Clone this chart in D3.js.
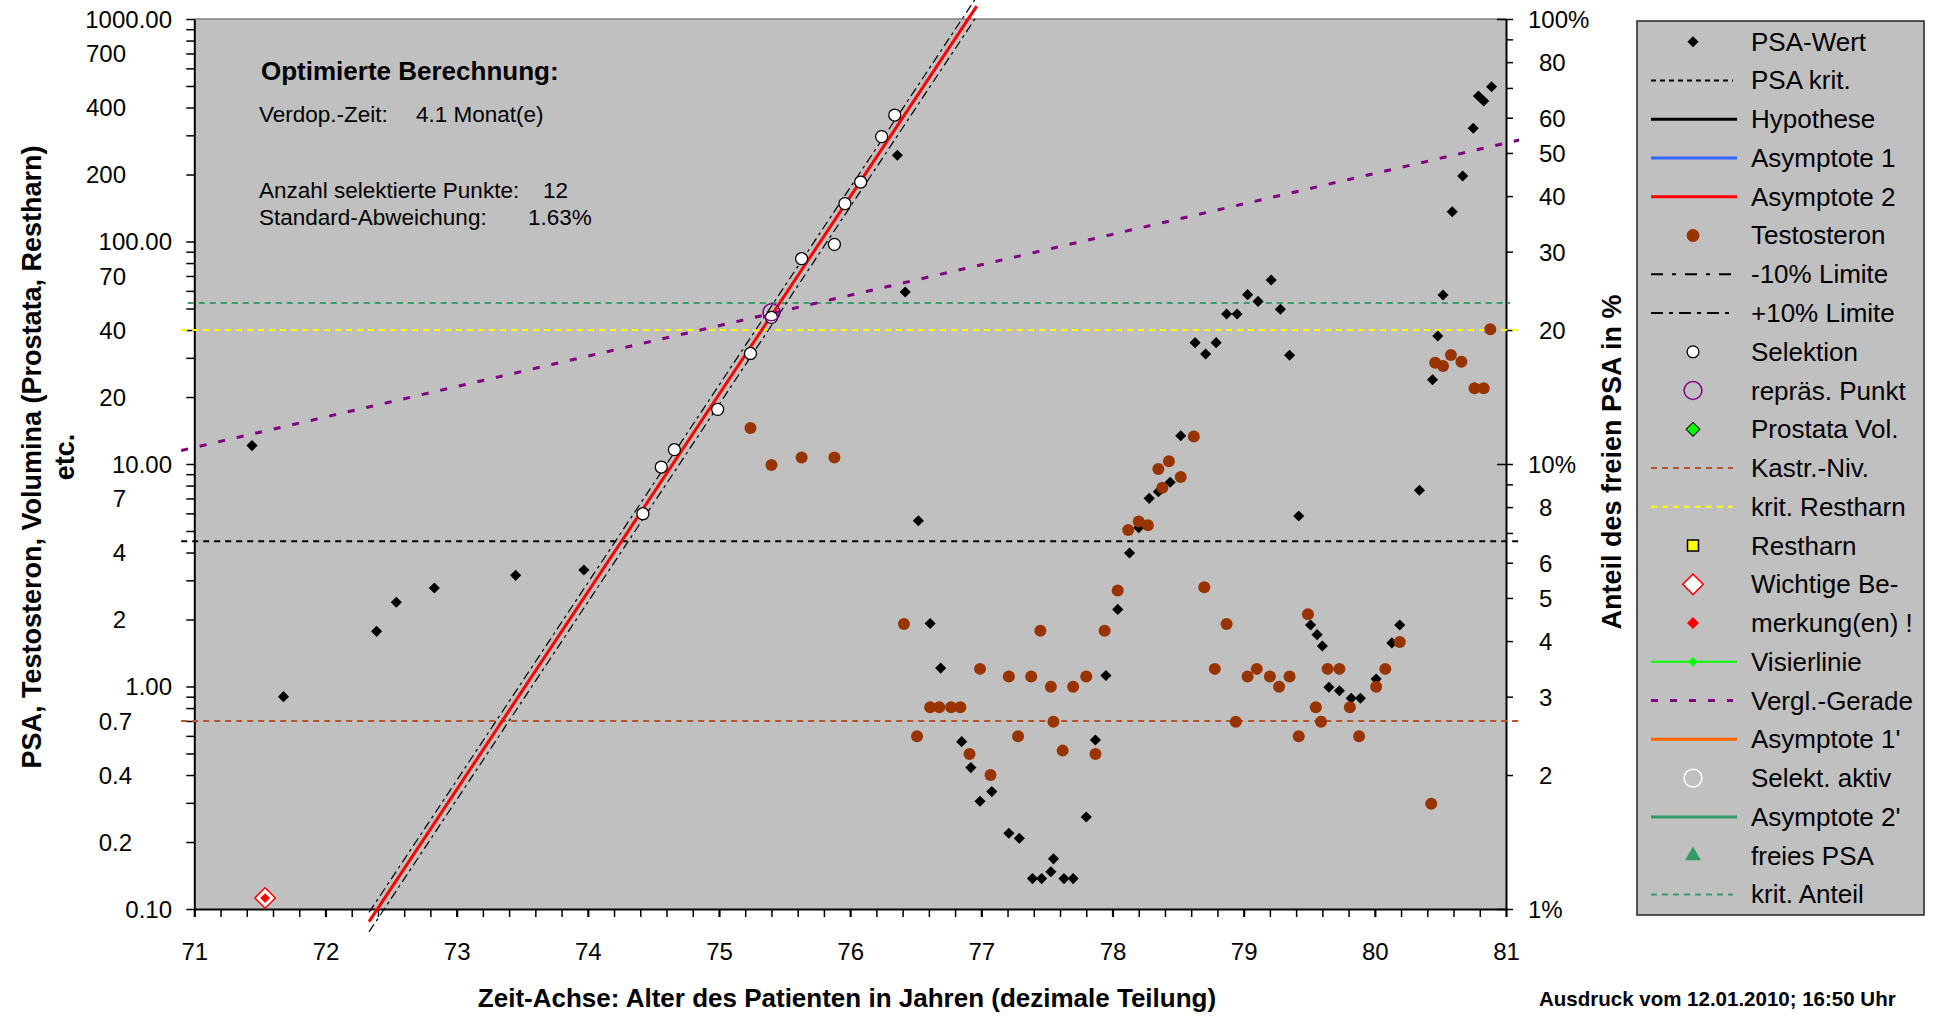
<!DOCTYPE html>
<html>
<head>
<meta charset="utf-8">
<title>PSA-Verlauf</title>
<script src="https://d3js.org/d3.v7.min.js"></script>
<style>
  body { margin: 0; background: #fff; }
  text { font-family: "Liberation Sans", Arial, sans-serif; fill: #000; }
</style>
</head>
<body>
<script>
var w = 1933, h = 1016;

// PSA-Wert [Alter, ng/ml]
var psaWert = [
  [71.44, 12.1], [71.68, 0.90], [72.39, 1.77], [72.54, 2.39], [72.83, 2.77], [73.45, 3.16], [73.97, 3.34],
  [74.42, 5.98], [74.56, 9.69], [74.66, 11.6], [74.99, 17.6], [75.24, 31.4], [75.40, 45.6], [75.63, 83.7],
  [75.88, 97.1], [75.96, 148], [76.08, 185], [76.24, 296], [76.34, 370], [76.36, 244], [76.42, 59.3],
  [76.52, 5.56], [76.61, 1.92], [76.69, 1.21], [76.85, 0.565], [76.92, 0.432], [76.99, 0.305], [77.08, 0.337],
  [77.21, 0.219], [77.29, 0.208], [77.39, 0.137], [77.46, 0.137], [77.53, 0.147], [77.55, 0.168], [77.63, 0.137],
  [77.70, 0.137], [77.80, 0.259], [77.87, 0.575], [77.95, 1.12], [78.04, 2.22], [78.13, 3.98], [78.20, 5.17],
  [78.28, 7.01], [78.35, 7.51], [78.44, 8.28], [78.52, 13.4], [78.63, 35.1], [78.71, 31.2], [78.79, 35.1],
  [78.87, 47.2], [78.95, 47.2], [79.03, 57.7], [79.11, 53.8], [79.21, 67.1], [79.28, 49.6], [79.35, 30.8],
  [79.42, 5.84], [79.51, 1.89], [79.56, 1.71], [79.60, 1.52], [79.65, 0.992], [79.73, 0.957], [79.82, 0.885],
  [79.89, 0.885], [80.01, 1.08], [80.13, 1.57], [80.19, 1.89], [80.34, 7.62], [80.44, 23.9], [80.48, 37.6],
  [80.52, 57.5], [80.59, 136], [80.67, 197], [80.75, 323], [80.79, 451], [80.83, 428], [80.89, 496]
];

// selektierte Punkte (12)
var selektion = [
  [74.42, 5.98], [74.56, 9.69], [74.66, 11.6], [74.99, 17.6], [75.24, 31.4], [75.40, 45.6],
  [75.63, 83.7], [75.88, 97.1], [75.96, 148], [76.08, 185], [76.24, 296], [76.34, 370]
];

var testosteron = [
  [75.24, 14.5], [75.40, 9.90], [75.63, 10.7], [75.88, 10.7], [76.41, 1.91], [76.51, 0.597], [76.61, 0.806],
  [76.68, 0.806], [76.77, 0.806], [76.84, 0.806], [76.91, 0.497], [76.99, 1.20], [77.07, 0.400], [77.21, 1.11],
  [77.28, 0.597], [77.38, 1.11], [77.45, 1.78], [77.53, 0.998], [77.55, 0.695], [77.62, 0.515], [77.70, 0.998],
  [77.80, 1.11], [77.87, 0.497], [77.94, 1.78], [78.04, 2.70], [78.12, 5.05], [78.20, 5.51], [78.27, 5.30],
  [78.35, 9.50], [78.38, 7.83], [78.43, 10.3], [78.52, 8.74], [78.62, 13.3], [78.70, 2.79], [78.78, 1.20],
  [78.87, 1.91], [78.94, 0.695], [79.03, 1.11], [79.10, 1.20], [79.20, 1.11], [79.27, 0.998], [79.35, 1.11],
  [79.42, 0.597], [79.49, 2.11], [79.55, 0.806], [79.59, 0.695], [79.64, 1.20], [79.73, 1.20], [79.81, 0.806],
  [79.88, 0.597], [80.01, 0.998], [80.08, 1.20], [80.19, 1.585], [80.43, 0.297], [80.46, 28.5], [80.52, 27.6],
  [80.58, 30.9], [80.66, 28.8], [80.76, 21.9], [80.83, 21.9], [80.88, 40.3]
];

var repraesPunkt = [[75.40, 48.1]];
var bemerkung = [[71.54, 0.112]];

var asymptote2 = [[72.332, 0.0877], [76.965, 1143]];
var limitePlus = [[72.332, 0.0965], [76.965, 1257]];
var limiteMinus = [[72.332, 0.0789], [76.965, 1029]];
var verglGerade = [[70.9, 11.5], [81.1, 286]];

var psaKrit = [[70.9, 4.5], [81.1, 4.5]];
var kastrNiv = [[70.9, 0.7], [81.1, 0.7]];
var kritRestharn = [[70.9, 40], [81.1, 40]];
var kritAnteil = [[70.95, 23], [81.03, 23]];   // rechte Achse, %

var leftVals = [0.1, 0.2, 0.4, 0.7, 1, 2, 4, 7, 10, 20, 40, 70, 100, 200, 400, 700, 1000];
var leftLabels = ["0.10", "0.2", "0.4", "0.7", "1.00", "2", "4", "7", "10.00", "20", "40", "70", "100.00", "200", "400", "700", "1000.00"];
var rightVals = [1, 2, 3, 4, 5, 6, 8, 10, 20, 30, 40, 50, 60, 80, 100];
var rightLabels = ["1%", "2", "3", "4", "5", "6", "8", "10%", "20", "30", "40", "50", "60", "80", "100%"];
var xLabelVals = [71, 72, 73, 74, 75, 76, 77, 78, 79, 80, 81];

var legendNames = ["PSA-Wert", "PSA krit.", "Hypothese", "Asymptote 1", "Asymptote 2", "Testosteron",
  "-10% Limite", "+10% Limite", "Selektion", "repräs. Punkt", "Prostata Vol.", "Kastr.-Niv.",
  "krit. Restharn", "Restharn", "Wichtige Be-", "merkung(en) !", "Visierlinie", "Vergl.-Gerade",
  "Asymptote 1'", "Selekt. aktiv", "Asymptote 2'", "freies PSA", "krit. Anteil"];

var svg = d3.select("body").append("svg")
  .attr("width", w)
  .attr("height", h);

var x = d3.scaleLinear().domain([71, 81]).range([194.3, 1506]);
var y = d3.scaleLog().domain([0.1, 1000]).range([909, 19]);
var yR = d3.scaleLog().domain([1, 100]).range([909, 19]);

function labelFor(vals, labels, d) {
  for (var i = 0; i < vals.length; i++) {
    if (Math.abs(vals[i] - d) / vals[i] < 1e-6) return labels[i];
  }
  return "";
}

// Plotfläche
svg.append("rect")
  .attr("x", x(71)).attr("y", y(1000))
  .attr("width", x(81) - x(71)).attr("height", y(0.1) - y(1000))
  .attr("fill", "#C0C0C0");
svg.append("line")
  .attr("x1", x(71)).attr("x2", x(81)).attr("y1", y(1000)).attr("y2", y(1000))
  .attr("stroke", "#808080").attr("stroke-width", 1.5);

// Achsen
var gL = svg.append("g")
  .attr("transform", "translate(" + x(71) + ",0)")
  .call(d3.axisLeft(y).tickValues(y.ticks()).tickSize(8).tickSizeOuter(0)
    .tickFormat(function(d){ return labelFor(leftVals, leftLabels, d); }));
gL.selectAll("text")
  .attr("dy", "0.35em")
  .attr("x", function(){
    var t = d3.select(this).text();
    if (t.indexOf(".00") >= 0 || t === "0.10") return 172 - x(71);
    if (t.indexOf("0.") === 0) return 132 - x(71);
    return 126 - x(71);
  });

var gR = svg.append("g")
  .attr("transform", "translate(" + x(81) + ",0)")
  .call(d3.axisRight(yR).tickValues(yR.ticks()).tickSize(7).tickSizeOuter(0)
    .tickFormat(function(d){ return labelFor(rightVals, rightLabels, d); }));
gR.selectAll("text")
  .attr("dy", "0.35em")
  .attr("x", function(){
    var t = d3.select(this).text();
    return t.indexOf("%") >= 0 ? 22 : 33;
  });
gR.selectAll(".tick")
  .filter(function(d){ return d === 1 || d === 10 || d === 100; })
  .select("line").attr("x1", -9);

var gB = svg.append("g")
  .attr("transform", "translate(0," + y(0.1) + ")")
  .call(d3.axisBottom(x).tickValues(x.ticks(50)).tickSize(8).tickSizeOuter(0)
    .tickFormat(function(d){ return xLabelVals.indexOf(d) >= 0 ? String(d) : ""; }));
gB.selectAll("text").attr("y", 50.5).attr("dy", 0);
gB.selectAll(".tick").filter(function(d){ return Number.isInteger(d); })
  .select("line").attr("stroke-width", 2.2);

[gL, gR, gB].forEach(function(g){
  g.attr("font-size", 24).attr("font-family", '"Liberation Sans", Arial, sans-serif');
  g.select(".domain").attr("stroke", "#000").attr("stroke-width", 2);
  g.selectAll(".tick line").attr("stroke", "#000").filter(function(){
    return !d3.select(this).attr("stroke-width");
  }).attr("stroke-width", 1.5);
  g.selectAll(".tick text").attr("fill", "#222");
});

// Linien
var line = d3.line()
  .x(function(d){ return x(d[0]); })
  .y(function(d){ return y(d[1]); });
var lineR = d3.line()
  .x(function(d){ return x(d[0]); })
  .y(function(d){ return yR(d[1]); });

svg.append("path").attr("d", lineR(kritAnteil))
  .attr("fill", "none").attr("stroke", "#3B9C6B").attr("stroke-width", 2).attr("stroke-dasharray", "6,5");
svg.append("path").attr("d", line(kritRestharn))
  .attr("fill", "none").attr("stroke", "#FFFF00").attr("stroke-width", 2).attr("stroke-dasharray", "6,5");
svg.append("path").attr("d", line(psaKrit))
  .attr("fill", "none").attr("stroke", "#000").attr("stroke-width", 2).attr("stroke-dasharray", "6,5");
svg.append("path").attr("d", line(kastrNiv))
  .attr("fill", "none").attr("stroke", "#B5532A").attr("stroke-width", 2).attr("stroke-dasharray", "6,5");
svg.append("path").attr("d", line(verglGerade))
  .attr("fill", "none").attr("stroke", "#800080").attr("stroke-width", 3).attr("stroke-dasharray", "7,12");

svg.append("path").attr("d", line(limitePlus))
  .attr("fill", "none").attr("stroke", "#000").attr("stroke-width", 1.2).attr("stroke-dasharray", "9,4,3,4");
svg.append("path").attr("d", line(limiteMinus))
  .attr("fill", "none").attr("stroke", "#000").attr("stroke-width", 1.2).attr("stroke-dasharray", "9,4,3,4");
svg.append("path").attr("d", line(asymptote2))
  .attr("fill", "none").attr("stroke", "#FF0000").attr("stroke-width", 3);

// Marker
var diamond = d3.symbol().type(d3.symbolSquare).size(62);

svg.selectAll("path.psa")
  .data(psaWert)
  .enter()
  .append("path")
  .attr("class", "psa")
  .attr("d", diamond)
  .attr("transform", function(d){ return "translate(" + x(d[0]) + "," + y(d[1]) + ") rotate(45)"; })
  .attr("fill", "#000");

svg.selectAll("circle.testo")
  .data(testosteron)
  .enter()
  .append("circle")
  .attr("class", "testo")
  .attr("cx", function(d){ return x(d[0]); })
  .attr("cy", function(d){ return y(d[1]); })
  .attr("r", 6)
  .attr("fill", "#993300");

svg.selectAll("circle.sel")
  .data(selektion)
  .enter()
  .append("circle")
  .attr("class", "sel")
  .attr("cx", function(d){ return x(d[0]); })
  .attr("cy", function(d){ return y(d[1]); })
  .attr("r", 6)
  .attr("fill", "#fff")
  .attr("stroke", "#000")
  .attr("stroke-width", 1.3);

svg.selectAll("circle.rep")
  .data(repraesPunkt)
  .enter()
  .append("circle")
  .attr("class", "rep")
  .attr("cx", function(d){ return x(d[0]); })
  .attr("cy", function(d){ return y(d[1]); })
  .attr("r", 8.5)
  .attr("fill", "none")
  .attr("stroke", "#800080")
  .attr("stroke-width", 1.5);

var bigDiamond = d3.symbol().type(d3.symbolSquare).size(210);
var smallDiamond = d3.symbol().type(d3.symbolSquare).size(48);
bemerkung.forEach(function(d){
  var t = "translate(" + x(d[0]) + "," + y(d[1]) + ") rotate(45)";
  svg.append("path").attr("d", bigDiamond).attr("transform", t)
    .attr("fill", "#fff").attr("stroke", "#FF0000").attr("stroke-width", 1.5);
  svg.append("path").attr("d", smallDiamond).attr("transform", t).attr("fill", "#FF0000");
});

// Texte im Diagramm
svg.append("text").attr("x", 261).attr("y", 80)
  .attr("font-size", 26).attr("font-weight", "bold").text("Optimierte Berechnung:");
svg.append("text").attr("x", 259).attr("y", 122).attr("font-size", 22.5).attr("fill", "#111").text("Verdop.-Zeit:");
svg.append("text").attr("x", 416).attr("y", 122).attr("font-size", 22.5).attr("fill", "#111").text("4.1 Monat(e)");
svg.append("text").attr("x", 259).attr("y", 198).attr("font-size", 22.5).attr("fill", "#111").text("Anzahl selektierte Punkte:");
svg.append("text").attr("x", 543).attr("y", 198).attr("font-size", 22.5).attr("fill", "#111").text("12");
svg.append("text").attr("x", 259).attr("y", 225).attr("font-size", 22.5).attr("fill", "#111").text("Standard-Abweichung:");
svg.append("text").attr("x", 528).attr("y", 225).attr("font-size", 22.5).attr("fill", "#111").text("1.63%");

// Achsentitel
svg.append("text")
  .attr("transform", "translate(41,457) rotate(-90)")
  .attr("text-anchor", "middle").attr("font-size", 27).attr("font-weight", "bold")
  .text("PSA, Testosteron, Volumina (Prostata, Restharn)");
svg.append("text")
  .attr("transform", "translate(74,457) rotate(-90)")
  .attr("text-anchor", "middle").attr("font-size", 27).attr("font-weight", "bold")
  .text("etc.");
svg.append("text")
  .attr("transform", "translate(1621,462) rotate(-90)")
  .attr("text-anchor", "middle").attr("font-size", 27).attr("font-weight", "bold")
  .text("Anteil des freien PSA in %");
svg.append("text")
  .attr("x", 847).attr("y", 1007)
  .attr("text-anchor", "middle").attr("font-size", 26).attr("font-weight", "bold")
  .text("Zeit-Achse: Alter des Patienten in Jahren (dezimale Teilung)");
svg.append("text")
  .attr("x", 1539).attr("y", 1006)
  .attr("font-size", 20.5).attr("font-weight", "bold")
  .text("Ausdruck vom 12.01.2010; 16:50 Uhr");

// Legende
var lg = svg.append("g");
lg.append("rect")
  .attr("x", 1637).attr("y", 21).attr("width", 287).attr("height", 894)
  .attr("fill", "#C0C0C0").attr("stroke", "#222").attr("stroke-width", 1.5);

var ly = d3.scaleLinear().domain([0, legendNames.length - 1]).range([41.7, 894.4]);
var sx = 1693;

function lgLine(i, color, width, dash, x2) {
  lg.append("line").attr("x1", 1651).attr("x2", x2 || 1737)
    .attr("y1", ly(i)).attr("y2", ly(i))
    .attr("stroke", color).attr("stroke-width", width)
    .attr("stroke-dasharray", dash || null);
}
function lgSym(i, sym, fill, stroke, sw, rot) {
  lg.append("path").attr("d", sym)
    .attr("transform", "translate(" + sx + "," + ly(i) + ")" + (rot ? " rotate(45)" : ""))
    .attr("fill", fill).attr("stroke", stroke || "none").attr("stroke-width", sw || 0);
}

lgSym(0, diamond, "#000", null, 0, true);
lgLine(1, "#000", 2, "5,4", 1733);
lgLine(2, "#000", 3);
lgLine(3, "#3366FF", 3);
lgLine(4, "#FF0000", 3);
lgSym(5, d3.symbol().type(d3.symbolCircle).size(130), "#993300");
lgLine(6, "#000", 2, "12,9,4,9", 1733);
lgLine(7, "#000", 2, "12,6,4,6", 1733);
lgSym(8, d3.symbol().type(d3.symbolCircle).size(110), "#fff", "#000", 1.3);
lgSym(9, d3.symbol().type(d3.symbolCircle).size(250), "none", "#800080", 1.5);
lgSym(10, d3.symbol().type(d3.symbolSquare).size(95), "#00FF00", "#000", 1, true);
lgLine(11, "#B5532A", 2, "6,5", 1733);
lgLine(12, "#FFFF00", 2, "6,5", 1733);
lgSym(13, d3.symbol().type(d3.symbolSquare).size(120), "#FFFF00", "#000", 1.5);
lgSym(14, bigDiamond, "#fff", "#FF0000", 1.5, true);
lgSym(15, d3.symbol().type(d3.symbolSquare).size(72), "#FF0000", null, 0, true);
lgLine(16, "#00FF00", 2);
lgSym(16, smallDiamond, "#00FF00", null, 0, true);
lgLine(17, "#800080", 3, "7,12", 1733);
lgLine(18, "#FF6600", 3);
lgSym(19, d3.symbol().type(d3.symbolCircle).size(250), "none", "#fff", 1.5);
lgLine(20, "#339966", 3);
lgSym(21, d3.symbol().type(d3.symbolTriangle).size(110), "#339966");
lgLine(22, "#3B9C6B", 2, "6,5", 1733);

lg.selectAll("text.lt")
  .data(legendNames)
  .enter()
  .append("text")
  .attr("class", "lt")
  .attr("x", 1751)
  .attr("y", function(d, i){ return ly(i) + 9; })
  .attr("font-size", 26)
  .attr("fill", "#111")
  .text(function(d){ return d; });
</script>
</body>
</html>
